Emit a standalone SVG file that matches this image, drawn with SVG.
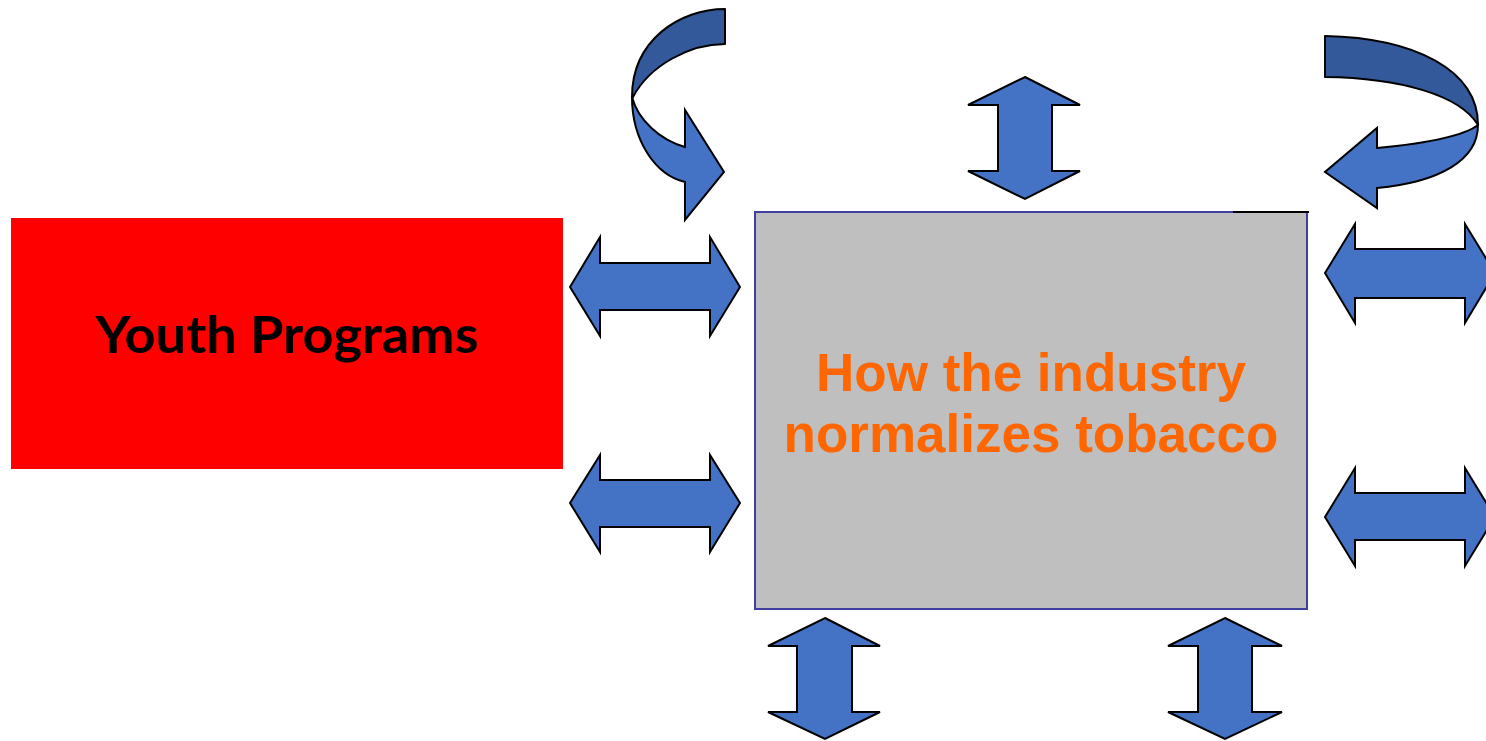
<svg xmlns="http://www.w3.org/2000/svg" width="1486" height="741" viewBox="0 0 1486 741">
<style>
.arr{fill:#4472C4;stroke:#000;stroke-width:2;stroke-linejoin:miter}
.dark{fill:#34599B;stroke:#000;stroke-width:2;stroke-linejoin:round}
.light{fill:#4472C4;stroke:#000;stroke-width:2;stroke-linejoin:miter}
.ind{font-family:'Liberation Sans', Arial, sans-serif;font-weight:bold;font-size:53px;fill:#FF6600}
</style>
<rect width="1486" height="741" fill="#fff"/>
<g id="youth-programs">
<rect x="11" y="218" width="552" height="251" fill="#FF0000"/>
<text x="287" y="353" text-anchor="middle" font-family="Lato, 'Open Sans', sans-serif" font-weight="bold" font-size="52" fill="#000" textLength="383" lengthAdjust="spacingAndGlyphs">Youth Programs</text>
</g>
<g id="industry">
<rect x="755" y="212" width="552" height="397" fill="#BFBFBF" stroke="#4040A0" stroke-width="2"/>
<line x1="1233" y1="212" x2="1309" y2="212" stroke="#000" stroke-width="2"/>
<text class="ind" x="1031" y="391" text-anchor="middle">How the industry</text>
<text class="ind" x="1031" y="452" text-anchor="middle">normalizes tobacco</text>
</g>
<g id="connectors">
<path class="arr" d="M570,287 L600,237 L600,263 L710,263 L710,237 L740,287 L710,336 L710,310 L600,310 L600,336 Z"/>
<path class="arr" d="M570,503 L600,455 L600,480 L710,480 L710,455 L740,503 L710,552 L710,527 L600,527 L600,552 Z"/>
<path class="arr" d="M1325,273 L1355,224 L1355,249 L1465,249 L1465,224 L1495,273 L1465,323 L1465,298 L1355,298 L1355,323 Z"/>
<path class="arr" d="M1325,517 L1355,468 L1355,493 L1465,493 L1465,468 L1495,517 L1465,566 L1465,540 L1355,540 L1355,566 Z"/>
<path class="arr" d="M1025,77 L1080,105 L1052,105 L1052,171 L1080,171 L1025,199 L968,171 L998,171 L998,105 L968,105 Z"/>
<path class="arr" d="M825,618 L880,646 L852,646 L852,712 L880,712 L825,739 L768,712 L797,712 L797,646 L768,646 Z"/>
<path class="arr" d="M1225,618 L1282,646 L1252,646 L1252,712 L1282,712 L1225,739 L1168,712 L1198,712 L1198,646 L1168,646 Z"/>
<path class="dark" d="M725,9 L725,44 C690,44 650,65 633,97 C632,97 632,97 632,97 C632,40 680,9 725,9 Z"/>
<path class="light" d="M632,97 C632,140 655,175 685,182 L685,220 L724,172 L685,110 L685,147 C660,140 638,120 632,97 Z"/>
<path class="dark" d="M1325,36 C1415,38 1478,70 1478,125 C1460,95 1400,78 1325,77 Z"/>
<path class="light" d="M1478,125 C1478,160 1440,182 1377,188 L1377,208 L1325,172 L1377,128 L1377,148 C1430,143 1465,135 1478,125 Z"/>
</g>
</svg>
